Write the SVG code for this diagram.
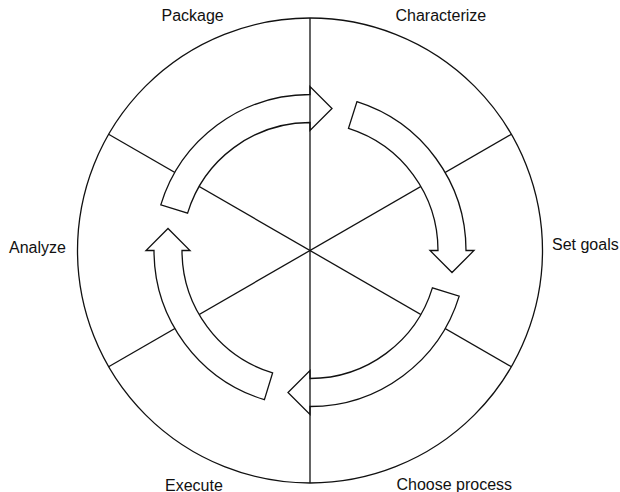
<svg xmlns="http://www.w3.org/2000/svg" width="620" height="492" viewBox="0 0 620 492">
<style>
.ln{fill:none;stroke:#111;stroke-width:1.3}
.ar{fill:#fff;stroke:#111;stroke-width:1.3;stroke-linejoin:miter}
.lb{font-family:"Liberation Sans",Arial,sans-serif;font-size:16px;fill:#111}
</style>
<rect width="620" height="492" fill="#fff"/>
<g id="wheel">
<circle class="ln" cx="310" cy="250.5" r="232.5" stroke-width="1.5"/>
<line class="ln" x1="108.6" y1="134.25" x2="511.4" y2="366.75"/>
<line class="ln" x1="108.6" y1="366.75" x2="511.4" y2="134.25"/>
</g>
<g id="connectors">
<path id="arrow-package-characterize" class="ar" d="M160.8 204.9 A156 156 0 0 1 310 94.5 L310 86.5 L332 108.5 L310 130.5 L310 122.5 A128 128 0 0 0 187.6 213.1 Z"/>
<path id="arrow-characterize-setgoals" class="ar" d="M356.9 101.7 A156 156 0 0 1 466 250.5 L474 250.5 L452 272.5 L430 250.5 L438 250.5 A128 128 0 0 0 348.5 128.4 Z"/>
<path id="arrow-setgoals-choose" class="ar" d="M459.2 296.1 A156 156 0 0 1 310 406.5 L310 414.5 L288 392.5 L310 370.5 L310 378.5 A128 128 0 0 0 432.4 287.9 Z"/>
<path id="arrow-execute-analyze" class="ar" d="M264.4 399.7 A156 156 0 0 1 154 250.5 L146 250.5 L168 228.5 L190 250.5 L182 250.5 A128 128 0 0 0 272.6 372.9 Z"/>
</g>
<line class="ln" x1="310" y1="18" x2="310" y2="483"/>
<g id="package"><text class="lb" x="161.5" y="21">Package</text></g>
<g id="characterize"><text class="lb" x="395.5" y="21">Characterize</text></g>
<g id="setgoals"><text class="lb" x="552" y="249.5">Set goals</text></g>
<g id="choose"><text class="lb" x="396.5" y="490">Choose process</text></g>
<g id="execute"><text class="lb" x="165" y="490.5">Execute</text></g>
<g id="analyze"><text class="lb" x="9" y="252.5">Analyze</text></g>
</svg>
